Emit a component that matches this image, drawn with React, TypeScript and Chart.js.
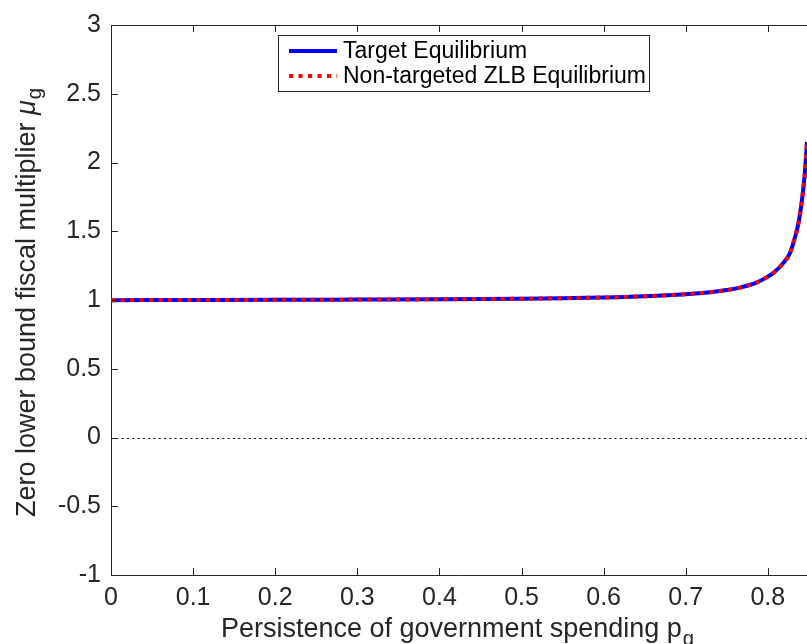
import React, { useEffect, useRef } from "react";
import { Chart, registerables } from "chart.js";

Chart.register(...registerables);

// Persistence of government spending (x)
const persistence = [
  0.0, 0.1, 0.2, 0.3, 0.4, 0.5, 0.55, 0.6, 0.65, 0.7, 0.73, 0.75, 0.766, 0.786,
  0.8, 0.807, 0.819, 0.827, 0.833, 0.837, 0.841, 0.843, 0.845, 0.847, 0.8477,
];
// Target equilibrium multiplier
const muTarget = [
  0.999, 1.0, 1.001, 1.003, 1.005, 1.009, 1.013, 1.018, 1.027, 1.042, 1.057, 1.072, 1.09, 1.126,
  1.17, 1.198, 1.27, 1.342, 1.455, 1.55, 1.7, 1.8, 1.917, 2.085, 2.15,
];
// Non-targeted ZLB equilibrium multiplier (coincides with target)
const muNonTargeted = [
  0.999, 1.0, 1.001, 1.003, 1.005, 1.009, 1.013, 1.018, 1.027, 1.042, 1.057, 1.072, 1.09, 1.126,
  1.17, 1.198, 1.27, 1.342, 1.455, 1.55, 1.7, 1.8, 1.917, 2.085, 2.15,
];
const seriesLabels = ["Target Equilibrium", "Non-targeted ZLB Equilibrium"];
const xTicks = [0, 0.1, 0.2, 0.3, 0.4, 0.5, 0.6, 0.7, 0.8];
const yTicks = [-1, -0.5, 0, 0.5, 1, 1.5, 2, 2.5, 3];
const X_MIN = 0;
const X_MAX = 0.8477;
const Y_MIN = -1;
const Y_MAX = 3;

const AXIS_COLOR = "#262626";
const FONT = "'Liberation Sans', Arial, Helvetica, sans-serif";
const TICK_FONT = 25;
const TITLE_FONT = 27;
const LEGEND_FONT = 23;

const decorPlugin = {
  id: "decor",
  beforeDatasetsDraw(chart: any) {
    const { ctx, chartArea } = chart;
    const ys = chart.scales.y;
    const y0 = ys.getPixelForValue(0);
    ctx.save();
    ctx.strokeStyle = "#000000";
    ctx.lineWidth = 1;
    ctx.setLineDash([2, 3.3]);
    ctx.beginPath();
    ctx.moveTo(chartArea.left, Math.round(y0) + 0.5);
    ctx.lineTo(chartArea.right, Math.round(y0) + 0.5);
    ctx.stroke();
    ctx.restore();
  },
  afterDraw(chart: any) {
    const { ctx, chartArea } = chart;
    const xs = chart.scales.x;
    const ys = chart.scales.y;
    ctx.save();
    ctx.strokeStyle = AXIS_COLOR;
    ctx.lineWidth = 1;
    ctx.setLineDash([]);
    // top box line
    ctx.beginPath();
    ctx.moveTo(chartArea.left, chartArea.top + 0.5);
    ctx.lineTo(chartArea.right, chartArea.top + 0.5);
    ctx.stroke();
    const tl = 7;
    ctx.beginPath();
    xTicks.forEach((v) => {
      const px = Math.round(xs.getPixelForValue(v)) + 0.5;
      ctx.moveTo(px, chartArea.bottom);
      ctx.lineTo(px, chartArea.bottom - tl);
      ctx.moveTo(px, chartArea.top);
      ctx.lineTo(px, chartArea.top + tl);
    });
    yTicks.forEach((v) => {
      const py = Math.round(ys.getPixelForValue(v)) + 0.5;
      ctx.moveTo(chartArea.left, py);
      ctx.lineTo(chartArea.left + tl, py);
    });
    ctx.stroke();

    // Axis titles with subscripts
    ctx.fillStyle = AXIS_COLOR;
    ctx.textBaseline = "alphabetic";
    const xMain = "Persistence of government spending p";
    const sub = "g";
    ctx.font = `${TITLE_FONT}px ${FONT}`;
    const wMain = ctx.measureText(xMain).width;
    ctx.font = `${TITLE_FONT * 0.75}px ${FONT}`;
    const wSub = ctx.measureText(sub).width;
    const cx = (chartArea.left + chartArea.right) / 2 - 2;
    const xStart = cx - (wMain + wSub) / 2;
    const xBase = 637;
    ctx.font = `${TITLE_FONT}px ${FONT}`;
    ctx.textAlign = "left";
    ctx.fillText(xMain, xStart, xBase);
    ctx.font = `${TITLE_FONT * 0.75}px ${FONT}`;
    ctx.fillText(sub, xStart + wMain + 1, xBase + 8);

    const yMain = "Zero lower bound fiscal multiplier ";
    const mu = "\u03bc";
    ctx.font = `${TITLE_FONT}px ${FONT}`;
    const wyMain = ctx.measureText(yMain).width;
    ctx.font = `italic ${TITLE_FONT}px ${FONT}`;
    const wMu = ctx.measureText(mu).width;
    ctx.font = `${TITLE_FONT * 0.75}px ${FONT}`;
    const wySub = ctx.measureText(sub).width;
    const cy = (chartArea.top + chartArea.bottom) / 2 + 3;
    ctx.save();
    ctx.translate(35, cy);
    ctx.rotate(-Math.PI / 2);
    const yStart = -(wyMain + wMu + wySub) / 2;
    ctx.font = `${TITLE_FONT}px ${FONT}`;
    ctx.fillText(yMain, yStart, 0);
    ctx.font = `italic ${TITLE_FONT}px ${FONT}`;
    ctx.fillText(mu, yStart + wyMain, 0);
    ctx.font = `${TITLE_FONT * 0.75}px ${FONT}`;
    ctx.fillText(sub, yStart + wyMain + wMu + 1, 6);
    ctx.restore();

    // Legend
    const bx = 278, by = 35, bw = 371, bh = 56;
    ctx.fillStyle = "#ffffff";
    ctx.fillRect(bx, by, bw, bh);
    ctx.strokeStyle = "#262626";
    ctx.lineWidth = 1;
    ctx.strokeRect(bx + 0.5, by + 0.5, bw, bh);
    const rows = [51, 76];
    chart.data.datasets.forEach((ds: any, i: number) => {
      const ry = rows[i];
      ctx.strokeStyle = ds.borderColor;
      ctx.lineWidth = 4;
      ctx.setLineDash(ds.borderDash || []);
      ctx.beginPath();
      ctx.moveTo(289, ry);
      ctx.lineTo(337, ry);
      ctx.stroke();
      ctx.setLineDash([]);
      ctx.fillStyle = "#000000";
      ctx.font = `${LEGEND_FONT}px ${FONT}`;
      ctx.textAlign = "left";
      ctx.textBaseline = "middle";
      ctx.fillText(ds.label, 343, ry + 1);
    });
    ctx.restore();
  },
};

export default function App() {
  const ref = useRef<HTMLCanvasElement | null>(null);
  useEffect(() => {
    document.body.style.margin = "0";
    const canvas = ref.current;
    if (!canvas) return;
    const chart = new Chart(canvas, {
      type: "line",
      data: {
        datasets: [
          {
            label: seriesLabels[0],
            data: persistence.map((x, i) => ({ x, y: muTarget[i] })),
            borderColor: "#0000ff",
            borderWidth: 4,
            pointRadius: 0,
            cubicInterpolationMode: "monotone",
            fill: false,
            order: 2,
          },
          {
            label: seriesLabels[1],
            data: persistence.map((x, i) => ({ x, y: muNonTargeted[i] })),
            borderColor: "#ff0000",
            borderWidth: 4,
            borderDash: [4, 5.5],
            pointRadius: 0,
            cubicInterpolationMode: "monotone",
            fill: false,
            order: 1,
          },
        ],
      },
      options: {
        responsive: false,
        animation: false,
        layout: { padding: { top: 19, right: 0, left: 0, bottom: 0 } },
        plugins: { legend: { display: false }, tooltip: { enabled: false } },
        scales: {
          x: {
            type: "linear",
            min: X_MIN,
            max: X_MAX,
            afterBuildTicks: (s: any) => {
              s.ticks = xTicks.map((v) => ({ value: v }));
            },
            afterFit: (s: any) => {
              s.height = 69;
            },
            ticks: {
              color: AXIS_COLOR,
              font: { size: TICK_FONT, family: FONT },
              padding: 8,
              maxRotation: 0,
              autoSkip: false,
              callback: (v: any) => String(Math.round(Number(v) * 10) / 10),
            },
            grid: { display: false, drawTicks: false },
            border: { display: true, color: AXIS_COLOR, width: 1 },
          },
          y: {
            type: "linear",
            min: Y_MIN,
            max: Y_MAX,
            afterBuildTicks: (s: any) => {
              s.ticks = yTicks.map((v) => ({ value: v }));
            },
            afterFit: (s: any) => {
              s.width = 111;
            },
            ticks: {
              color: AXIS_COLOR,
              font: { size: TICK_FONT, family: FONT },
              padding: 10,
              autoSkip: false,
              callback: (v: any) => String(v),
            },
            grid: { display: false, drawTicks: false },
            border: { display: true, color: AXIS_COLOR, width: 1 },
          },
        },
      },
      plugins: [decorPlugin],
    } as any);
    return () => chart.destroy();
  }, []);
  return (
    <div style={{ position: "absolute", left: 0, top: 0, width: 807, height: 644 }}>
      <canvas ref={ref} width={807} height={644} style={{ display: "block" }} />
    </div>
  );
}
